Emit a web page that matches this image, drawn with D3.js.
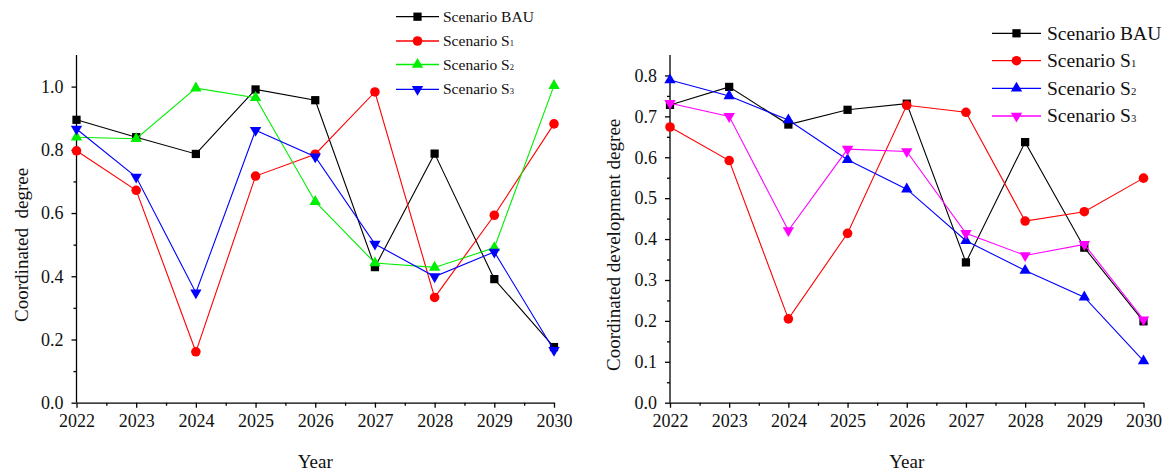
<!DOCTYPE html>
<html>
<head>
<meta charset="utf-8">
<script src="https://cdn.jsdelivr.net/npm/d3@7/dist/d3.min.js"></script>
<style>
  html, body { margin: 0; padding: 0; background: #fff; }
  svg { display: block; }
  svg text { font-family: "Liberation Serif", "Times New Roman", serif !important; }
</style>
</head>
<body>
<svg id="chart" width="1167" height="472"></svg>
<script>
// ---------- data ----------
const years = [2022, 2023, 2024, 2025, 2026, 2027, 2028, 2029, 2030];

// Left chart: Coordinated degree
const leftBAU = [0.895, 0.840, 0.787, 0.991, 0.957, 0.429, 0.788, 0.391, 0.176];
const leftS1  = [0.797, 0.672, 0.161, 0.717, 0.786, 0.983, 0.333, 0.593, 0.882];
const leftS2  = [0.840, 0.835, 0.995, 0.965, 0.636, 0.442, 0.428, 0.490, 1.003];
const leftS3  = [0.866, 0.714, 0.348, 0.862, 0.778, 0.502, 0.399, 0.477, 0.166];
const leftYTicks = [0.0, 0.2, 0.4, 0.6, 0.8, 1.0];
const leftYMinor = [0.1, 0.3, 0.5, 0.7, 0.9];

// Right chart: Coordinated development degree
const rightBAU = [0.728, 0.772, 0.680, 0.716, 0.731, 0.343, 0.637, 0.379, 0.199];
const rightS1  = [0.674, 0.592, 0.205, 0.414, 0.727, 0.710, 0.444, 0.467, 0.549];
const rightS2  = [0.789, 0.750, 0.691, 0.594, 0.522, 0.396, 0.323, 0.258, 0.102];
const rightS3  = [0.732, 0.700, 0.421, 0.620, 0.614, 0.414, 0.360, 0.387, 0.203];
const rightYTicks = [0.0, 0.1, 0.2, 0.3, 0.4, 0.5, 0.6, 0.7, 0.8];
const rightYMinor = [0.05, 0.15, 0.25, 0.35, 0.45, 0.55, 0.65, 0.75];

const xMinor = [2022.5, 2023.5, 2024.5, 2025.5, 2026.5, 2027.5, 2028.5, 2029.5];

const FONT = "Liberation Serif, Times New Roman, serif";
const svg = d3.select("#chart");

function marker(type) {
  const m = {
    square: d3.symbolSquare,
    circle: d3.symbolCircle,
    up: d3.symbolTriangle,
    down: d3.symbolTriangle
  }[type];
  const size = type === "square" ? 68 : type === "circle" ? 72 : 56;
  return d3.symbol().type(m).size(size)();
}

function drawChart(cfg) {
  const g = svg.append("g");
  const x = d3.scaleLinear().domain([2022, 2030]).range(cfg.xRange);
  const y = d3.scaleLinear().domain(cfg.yDomain).range(cfg.yRange);

  // minor ticks
  g.append("g")
    .attr("transform", `translate(0,${cfg.yRange[0]})`)
    .call(d3.axisBottom(x).tickValues(xMinor).tickSize(3).tickFormat(""))
    .call(a => a.select(".domain").remove());
  g.append("g")
    .attr("transform", `translate(${cfg.xRange[0]},0)`)
    .call(d3.axisLeft(y).tickValues(cfg.yMinor).tickSize(3).tickFormat(""))
    .call(a => a.select(".domain").remove());

  // major axes
  const xa = g.append("g")
    .attr("transform", `translate(0,${cfg.yRange[0]})`)
    .call(d3.axisBottom(x).tickValues(years).tickFormat(d3.format("d")).tickSize(5).tickPadding(7).tickSizeOuter(0));
  xa.attr("font-family", FONT).attr("font-size", 18);
  xa.selectAll("text").style("font-family", FONT).style("font-size", "18px").attr("fill", "#111");

  const ya = g.append("g")
    .attr("transform", `translate(${cfg.xRange[0]},0)`)
    .call(d3.axisLeft(y).tickValues(cfg.yTicks).tickFormat(d3.format(".1f")).tickSize(5).tickPadding(8).tickSizeOuter(0));
  ya.attr("font-family", FONT).attr("font-size", 18);
  ya.selectAll("text").style("font-family", FONT).style("font-size", "18px").attr("fill", "#111");
  g.selectAll(".domain, .tick line").attr("stroke", "#000").attr("stroke-width", 1.3);

  // y-axis line extended to top
  ya.select(".domain").attr("d", `M0,${cfg.yRange[0]}V${cfg.yRange[1]}`);

  // axis titles
  g.append("text")
    .attr("transform", `translate(${cfg.yTitleX},${(cfg.yRange[0] + cfg.yRange[1]) / 2 + 16}) rotate(-90)`)
    .attr("text-anchor", "middle")
    .attr("font-size", cfg.yTitleSize)
    .attr("fill", "#111")
    .style("white-space", "pre")
    .text(cfg.yTitle);
  g.append("text")
    .attr("x", (cfg.xRange[0] + cfg.xRange[1]) / 2)
    .attr("y", 468)
    .attr("text-anchor", "middle")
    .attr("font-size", 19)
    .attr("fill", "#111")
    .text("Year");

  const line = d3.line().x((d, i) => x(years[i])).y(d => y(d));

  cfg.series.forEach(s => {
    g.append("path")
      .datum(s.values)
      .attr("d", line)
      .attr("fill", "none")
      .attr("stroke", s.color)
      .attr("stroke-width", 1.1);
    g.selectAll(null)
      .data(s.values)
      .enter()
      .append("path")
      .attr("d", marker(s.marker))
      .attr("transform", (d, i) => `translate(${x(years[i])},${y(d)})` + (s.marker === "down" ? " rotate(180)" : ""))
      .attr("fill", s.color);
  });

  // legend
  const lg = g.append("g");
  cfg.series.forEach((s, i) => {
    const yy = cfg.legend.rows[i];
    lg.append("line")
      .attr("x1", cfg.legend.x1).attr("x2", cfg.legend.x2)
      .attr("y1", yy).attr("y2", yy)
      .attr("stroke", s.color).attr("stroke-width", 1.3);
    lg.append("path")
      .attr("d", marker(s.marker))
      .attr("transform", `translate(${(cfg.legend.x1 + cfg.legend.x2) / 2},${yy})` + (s.marker === "down" ? " rotate(180)" : ""))
      .attr("fill", s.color);
    const t = lg.append("text")
      .attr("x", cfg.legend.tx)
      .attr("y", yy + cfg.legend.fs * 0.33)
      .attr("font-size", cfg.legend.fs)
      .attr("fill", "#111");
    t.append("tspan").text(s.name);
    if (s.sub) {
      t.append("tspan").attr("font-size", cfg.legend.fs * 0.55).text(s.sub);
    }
  });
}

drawChart({
  xRange: [76.5, 554],
  yDomain: [0, 1.1],
  yRange: [402.7, 55],
  yTicks: leftYTicks,
  yMinor: leftYMinor,
  yTitle: "Coordinated  degree",
  yTitleX: 28,
  yTitleSize: 19,
  series: [
    { name: "Scenario BAU", sub: "", values: leftBAU, color: "#000000", marker: "square" },
    { name: "Scenario S", sub: "1", values: leftS1, color: "#ff0000", marker: "circle" },
    { name: "Scenario S", sub: "2", values: leftS2, color: "#00ee00", marker: "up" },
    { name: "Scenario S", sub: "3", values: leftS3, color: "#0000ff", marker: "down" }
  ],
  legend: { x1: 396, x2: 439, tx: 443, fs: 15.5, rows: [16.7, 41, 64.5, 89.3] }
});

drawChart({
  xRange: [670, 1143.5],
  yDomain: [0, 0.85],
  yRange: [402.7, 55],
  yTicks: rightYTicks,
  yMinor: rightYMinor,
  yTitle: "Coordinated development degree",
  yTitleX: 620,
  yTitleSize: 19,
  series: [
    { name: "Scenario BAU", sub: "", values: rightBAU, color: "#000000", marker: "square" },
    { name: "Scenario S", sub: "1", values: rightS1, color: "#ff0000", marker: "circle" },
    { name: "Scenario S", sub: "2", values: rightS2, color: "#0000ff", marker: "up" },
    { name: "Scenario S", sub: "3", values: rightS3, color: "#ff00ff", marker: "down" }
  ],
  legend: { x1: 992, x2: 1041, tx: 1047, fs: 19.5, rows: [33.3, 60.7, 88.3, 116] }
});
</script>
</body>
</html>
